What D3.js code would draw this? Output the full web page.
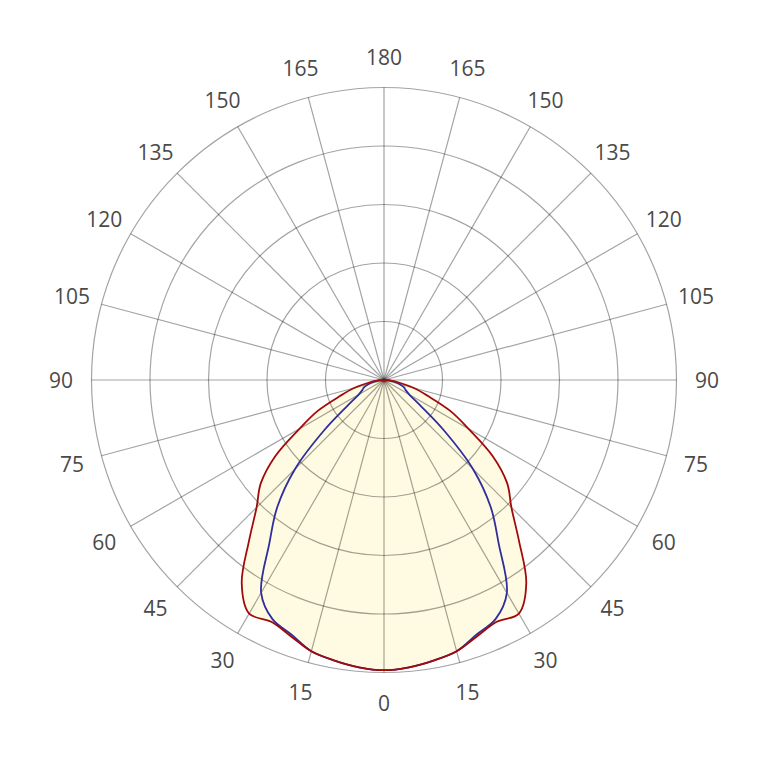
<!DOCTYPE html>
<html>
<head>
<meta charset="utf-8">
<script src="https://cdn.jsdelivr.net/npm/d3@7"></script>
<style>
  html, body { margin: 0; padding: 0; background: #fff; }
  svg { display: block; }
</style>
</head>
<body>
<div id="chart"></div>
<script>
// Gamma angles (degrees from nadir), one half of the symmetric curve
const angles = [0, 5, 10, 15, 20, 25, 30, 35, 40, 45, 50, 55, 60, 65, 70, 75, 80, 85, 90];

// C0-C180 plane (red) and C90-C270 plane (blue)
const planeC0 = [496, 493, 487, 480, 466, 456, 461, 424, 359, 308, 275, 227, 167, 125, 80, 53, 27, 12, 0];
const planeC90 = [496, 493, 487, 480, 463, 451, 420, 342, 284, 215, 133, 75, 50, 41, 36, 27, 19, 9, 0];

// Grid
const ringValues = [100, 200, 300, 400, 500];
const spokeAngles = d3.range(0, 360, 15);

class PolarDiagram {

  constructor(_config) {
    this.config = {
      parentElement: _config.parentElement,
      containerWidth: 768,
      containerHeight: 768,
      centerX: 384,
      centerY: 380,
      outerRadius: 292.5,
      labelRadius: 323
    };
    this.initVis();
  }

  initVis() {
    let vis = this;

    vis.svg = d3.select(vis.config.parentElement).append('svg')
        .attr('width', vis.config.containerWidth)
        .attr('height', vis.config.containerHeight);

    vis.chart = vis.svg.append('g')
        .attr('transform', `translate(${vis.config.centerX},${vis.config.centerY})`);

    vis.rScale = d3.scaleLinear()
        .domain([0, 500])
        .range([0, vis.config.outerRadius]);

    // angle measured from nadir, positive to the right; d3 radial angle is clockwise from 12 o'clock
    vis.toRadial = deg => Math.PI - deg * Math.PI / 180;

    vis.line = d3.lineRadial()
        .angle(d => vis.toRadial(d.angle))
        .radius(d => vis.rScale(d.value))
        .curve(d3.curveCatmullRom.alpha(0.5));

    vis.renderVis();
  }

  // mirror one half of the curve to both sides of the nadir
  mirrored(values) {
    const left = angles.map((a, i) => ({angle: -a, value: values[i]})).reverse();
    const right = angles.slice(1).map((a, i) => ({angle: a, value: values[i + 1]}));
    return left.concat(right);
  }

  renderVis() {
    let vis = this;
    const c0 = vis.mirrored(planeC0);
    const c90 = vis.mirrored(planeC90);

    // Light fill below the outer curve
    vis.chart.append('path')
        .attr('d', vis.line(c0) + 'Z')
        .attr('fill', '#fffbe2');

    // Grid on top of the fill
    const grid = vis.chart.append('g')
        .attr('fill', 'none')
        .attr('stroke', '#000')
        .attr('stroke-opacity', 0.36)
        .attr('stroke-width', 1.2);

    grid.selectAll('circle')
      .data(ringValues)
      .join('circle')
        .attr('r', d => vis.rScale(d));

    grid.selectAll('line')
      .data(spokeAngles)
      .join('line')
        .attr('x2', d => vis.rScale(500) * Math.sin(vis.toRadial(d)))
        .attr('y2', d => -vis.rScale(500) * Math.cos(vis.toRadial(d)));

    // Curves
    vis.chart.append('path')
        .attr('d', vis.line(c90))
        .attr('fill', 'none')
        .attr('stroke', '#2e2e9c')
        .attr('stroke-width', 1.8);

    vis.chart.append('path')
        .attr('d', vis.line(c0))
        .attr('fill', 'none')
        .attr('stroke', '#a20a0a')
        .attr('stroke-width', 1.8);

    // Angle labels
    vis.chart.selectAll('.angle-label')
      .data(spokeAngles)
      .join('text')
        .attr('class', 'angle-label')
        .attr('x', d => vis.config.labelRadius * Math.sin(vis.toRadial(d)))
        .attr('y', d => -vis.config.labelRadius * Math.cos(vis.toRadial(d)))
        .attr('text-anchor', 'middle')
        .attr('dominant-baseline', 'central')
        .attr('font-family', '"Open Sans", sans-serif')
        .attr('font-size', 21)
        .attr('fill', '#4a4a4a')
        .text(d => d <= 180 ? d : 360 - d);
  }
}

new PolarDiagram({parentElement: '#chart'});
</script>
</body>
</html>
